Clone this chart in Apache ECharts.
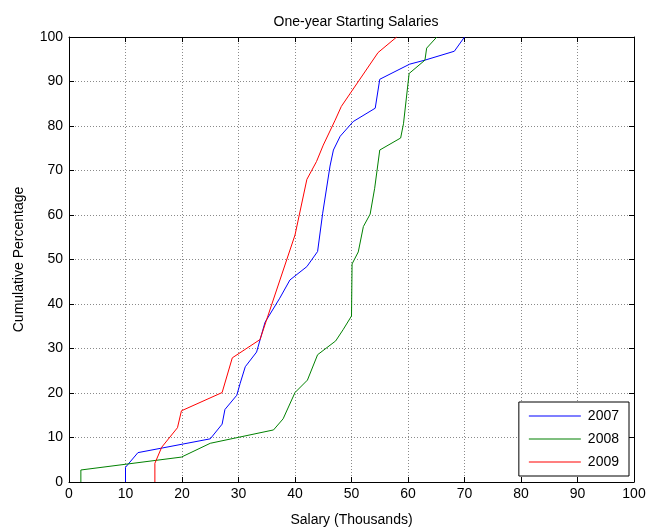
<!DOCTYPE html>
<html>
<head>
<meta charset="utf-8">
<script src="https://cdn.jsdelivr.net/npm/echarts@6/dist/echarts.min.js"></script>
<style>
  html, body { margin: 0; padding: 0; background: #fff; }
  #chart { width: 651px; height: 529px; }
</style>
</head>
<body>
<div id="chart"></div>
<script>
// Cumulative distribution of one-year starting salaries (thousands) by graduating year
const years = ['2007', '2008', '2009'];
const colors = ['#0000ff', '#008000', '#ff0000'];

const salary2007 = [10, 10, 12.2, 25, 27.1, 27.6, 29.7, 30.3, 31.2, 33.2, 34.7, 37.3, 39.1, 42.1, 44.0, 44.9, 46.2, 46.8, 48.0, 50.3, 54.2, 55.0, 60.3, 63.0, 68.2, 70.0];
const pct2007    = [0, 3.3, 6.6, 9.7, 13.0, 16.3, 19.5, 22.2, 25.9, 29.2, 35.9, 41.3, 45.4, 48.4, 51.8, 60.4, 71.0, 74.6, 77.7, 81.0, 84.0, 90.5, 93.9, 94.8, 96.8, 100];

const salary2008 = [2.1, 2.1, 19.9, 25.0, 36.2, 37.9, 40.0, 42.2, 44.0, 47.2, 48.5, 50.0, 50.1, 51.2, 52.1, 53.3, 54.1, 55.0, 58.7, 59.2, 60.2, 63.0, 63.3, 65.1];
const pct2008    = [0, 2.7, 5.6, 8.7, 11.7, 14.2, 20.1, 22.9, 28.6, 31.7, 34.2, 37.3, 49.0, 51.7, 57.4, 60.2, 66.0, 74.6, 77.3, 80.5, 91.8, 94.8, 97.5, 100];

const salary2009 = [15.2, 15.2, 16.4, 19.2, 19.9, 27.1, 28.9, 33.8, 40.0, 42.1, 43.8, 45.0, 47.1, 48.2, 54.7, 58.0];
const pct2009    = [0, 4.2, 7.8, 12.2, 16.0, 20.1, 27.9, 32.0, 55.5, 68.0, 72.0, 75.7, 81.3, 84.4, 96.5, 100];

const xTicks = [0, 10, 20, 30, 40, 50, 60, 70, 80, 90, 100];
const yTicks = [0, 10, 20, 30, 40, 50, 60, 70, 80, 90, 100];

const salaries = [salary2007, salary2008, salary2009];
const pcts = [pct2007, pct2008, pct2009];

const font = 'Liberation Sans, Arial, sans-serif';

function pairs(xs, ys) {
  return xs.map((x, i) => [x, ys[i]]);
}

const gridLine = { show: true, lineStyle: { color: '#8a8a8a', type: [1, 2], width: 1 } };
const blackLine = { show: true, onZero: false, lineStyle: { color: '#000', width: 1 } };
const innerTick = { show: true, inside: true, length: 5, lineStyle: { color: '#000' } };

const chart = echarts.init(document.getElementById('chart'), null, { renderer: 'canvas' });
chart.setOption({
  animation: false,
  backgroundColor: '#fff',
  title: {
    text: 'One-year Starting Salaries',
    left: 351,
    textAlign: 'center',
    top: 10,
    textStyle: { fontFamily: font, fontSize: 14, fontWeight: 'normal', color: '#000' }
  },
  grid: { left: 69, right: 17, top: 37, bottom: 47, containLabel: false, outerBoundsMode: 'none' },
  legend: {
    data: years.map(name => ({ name, icon: 'rect' })),
    orient: 'vertical',
    right: 22,
    bottom: 53,
    backgroundColor: '#fff',
    borderColor: '#000',
    borderWidth: 1,
    padding: [6, 10, 6, 10],
    itemWidth: 52,
    itemHeight: 1,
    itemGap: 7,
    textStyle: { fontFamily: font, fontSize: 14, color: '#000', lineHeight: 16, padding: [0, 0, 0, 2] }
  },
  xAxis: [
    {
      type: 'value', min: 0, max: 100, interval: 10,
      name: 'Salary (Thousands)', nameLocation: 'middle', nameGap: 31,
      nameTextStyle: { fontFamily: font, fontSize: 14, color: '#000' },
      axisLine: blackLine, axisTick: innerTick, splitLine: gridLine,
      axisLabel: {
        fontFamily: font, fontSize: 14, color: '#000', margin: 5,
        formatter: v => (xTicks.includes(v) ? String(v) : '')
      }
    },
    {
      type: 'value', min: 0, max: 100, interval: 10, position: 'top',
      axisLine: blackLine, axisTick: innerTick, splitLine: { show: false },
      axisLabel: { show: false }
    }
  ],
  yAxis: [
    {
      type: 'value', min: 0, max: 100, interval: 10,
      name: 'Cumulative Percentage', nameLocation: 'middle', nameGap: 43,
      nameTextStyle: { fontFamily: font, fontSize: 14, color: '#000' },
      axisLine: blackLine, axisTick: innerTick, splitLine: gridLine,
      axisLabel: {
        fontFamily: font, fontSize: 14, color: '#000', margin: 6,
        formatter: v => (yTicks.includes(v) ? String(v) : '')
      }
    },
    {
      type: 'value', min: 0, max: 100, interval: 10, position: 'right',
      axisLine: blackLine, axisTick: innerTick, splitLine: { show: false },
      axisLabel: { show: false }
    }
  ],
  series: years.map((yr, i) => ({
    name: yr,
    type: 'line',
    xAxisIndex: 0,
    yAxisIndex: 0,
    symbol: 'none',
    color: colors[i],
    lineStyle: { color: colors[i], width: 1 },
    data: pairs(salaries[i], pcts[i]),
    z: 3 + i
  }))
});
</script>
</body>
</html>
